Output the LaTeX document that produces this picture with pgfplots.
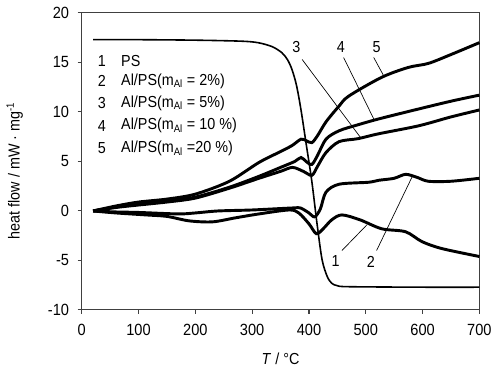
\documentclass[border=0pt]{standalone}
\usepackage{fontspec}
\setmainfont{Liberation Sans}[FakeStretch=0.9]
\usepackage{pgfplots}
\pgfplotsset{compat=1.18}
\begin{document}
\begin{tikzpicture}[x=1pt,y=1pt]
\begin{axis}[
  scale only axis,
  width=299.25pt, height=223.5pt,
  xmin=0, xmax=700, ymin=-10, ymax=20,
  xtick={0,100,...,700}, ytick={-10,-5,...,20},
  tick align=outside, major tick length=3pt,
  xtick pos=bottom, ytick pos=left,
  axis line style={line width=0.8pt, black!75},
  tick style={line width=0.8pt, black!75},
  /pgf/number format/assume math mode=true,
  ticklabel style={font=\fontsize{12.2}{14}\selectfont},
  xticklabel style={yshift=-4pt},
  yticklabel style={xshift=-3pt},
  label style={font=\fontsize{12}{14}\selectfont},
  xlabel={\textit{T} / °C},
  ylabel={heat flow / mW · mg\textsuperscript{-1}},
  xlabel style={yshift=-6pt},
  ylabel style={yshift=12pt, xshift=-7pt},
  clip=false,
]
% PS thin curve
\addplot[line width=1.2pt, black, smooth, tension=0.5] coordinates {
(20,17.3)(100,17.3)(200,17.25)(280,17.15)(310,17.0)(335,16.6)(352,16.0)(362,15.3)(370,14.3)(378,12.7)(386,10.2)(395,6.8)(405,3.0)(414,-1.2)(423,-4.9)(432,-6.6)(440,-7.3)(450,-7.55)(470,-7.65)(600,-7.7)(700,-7.7)};
% curve 1
\addplot[line width=2.2pt, black, smooth] coordinates {
(20,0)(60,-0.2)(113,-0.4)(150,-0.55)(189,-1.0)(230,-1.1)(270,-0.7)(312,-0.3)(365,0.1)(382,-0.2)(400,-1.3)(413,-2.3)(425,-1.8)(440,-0.9)(458,-0.4)(490,-0.9)(528,-1.8)(570,-2.1)(599,-3.1)(634,-3.8)(700,-4.6)};
% curve 2
\addplot[line width=2.2pt, black, smooth] coordinates {
(20,0)(60,-0.1)(100,-0.15)(170,-0.3)(200,-0.2)(240,0)(300,0.1)(370,0.3)(385,0.3)(400,-0.2)(410,-0.6)(420,0.2)(430,1.9)(453,2.7)(505,2.9)(523,3.1)(550,3.3)(570,3.7)(590,3.4)(610,3.0)(650,3.0)(700,3.3)};
% curve 3
\addplot[line width=2.2pt, black, smooth] coordinates {
(20,0)(60,0.35)(100,0.6)(150,0.9)(200,1.3)(260,2.3)(312,3.3)(350,4.0)(371,4.4)(390,4.0)(405,3.6)(415,4.5)(430,5.9)(453,7.0)(486,7.3)(523,7.8)(593,8.6)(650,9.5)(700,10.2)};
% curve 4
\addplot[line width=2.2pt, black, smooth] coordinates {
(20,0)(60,0.4)(100,0.7)(150,1.0)(200,1.4)(260,2.4)(312,3.5)(350,4.4)(375,5.0)(386,5.4)(395,5.0)(405,4.7)(415,5.6)(430,7.25)(453,8.1)(486,8.7)(523,9.3)(593,10.3)(651,11.1)(700,11.7)};
% curve 5
\addplot[line width=2.2pt, black, smooth] coordinates {
(20,0)(60,0.5)(100,0.9)(150,1.2)(200,1.7)(260,3.0)(312,4.9)(350,6.0)(370,6.6)(386,7.25)(395,7.1)(405,6.9)(415,7.6)(430,9.0)(453,10.6)(470,11.6)(528,13.5)(575,14.5)(610,14.9)(650,15.8)(700,17.0)};
% legend text
\begin{scope}[every node/.style={font=\fontsize{12}{14}\selectfont, anchor=west, inner sep=0pt}]
\node at (axis cs:28,15.1) {1};
\node at (axis cs:28,13.1) {2};
\node at (axis cs:28,10.9) {3};
\node at (axis cs:28,8.6) {4};
\node at (axis cs:28,6.3) {5};
\node at (axis cs:69,15.1) {PS};
\node at (axis cs:69,13.1) {Al/PS(m\textsubscript{Al} = 2\%)};
\node at (axis cs:69,10.9) {Al/PS(m\textsubscript{Al} = 5\%)};
\node at (axis cs:69,8.6) {Al/PS(m\textsubscript{Al} = 10 \%)};
\node at (axis cs:69,6.3) {Al/PS(m\textsubscript{Al} =20 \%)};
\end{scope}
\begin{scope}[every node/.style={font=\fontsize{12}{14}\selectfont, inner sep=0pt}]
\node at (axis cs:378,16.6) {3};
\node at (axis cs:456,16.6) {4};
\node at (axis cs:519,16.6) {5};
\node at (axis cs:447,-5.1) {1};
\node at (axis cs:509,-5.1) {2};
\end{scope}
\draw[line width=0.5pt] (axis cs:388,15.3) -- (axis cs:491,7.4);
\draw[line width=0.5pt] (axis cs:461,15.5) -- (axis cs:514,9.3);
\draw[line width=0.5pt] (axis cs:514,15.5) -- (axis cs:532,13.6);
\draw[line width=0.5pt] (axis cs:458,-4.0) -- (axis cs:502,-1.4);
\draw[line width=0.5pt] (axis cs:519,-4.0) -- (axis cs:582,3.5);
\end{axis}
\path (current axis.south west) ++(-61.5pt,-41.25pt);
\path (current axis.north east) ++(11.25pt,9.75pt);
\end{tikzpicture}
\end{document}
